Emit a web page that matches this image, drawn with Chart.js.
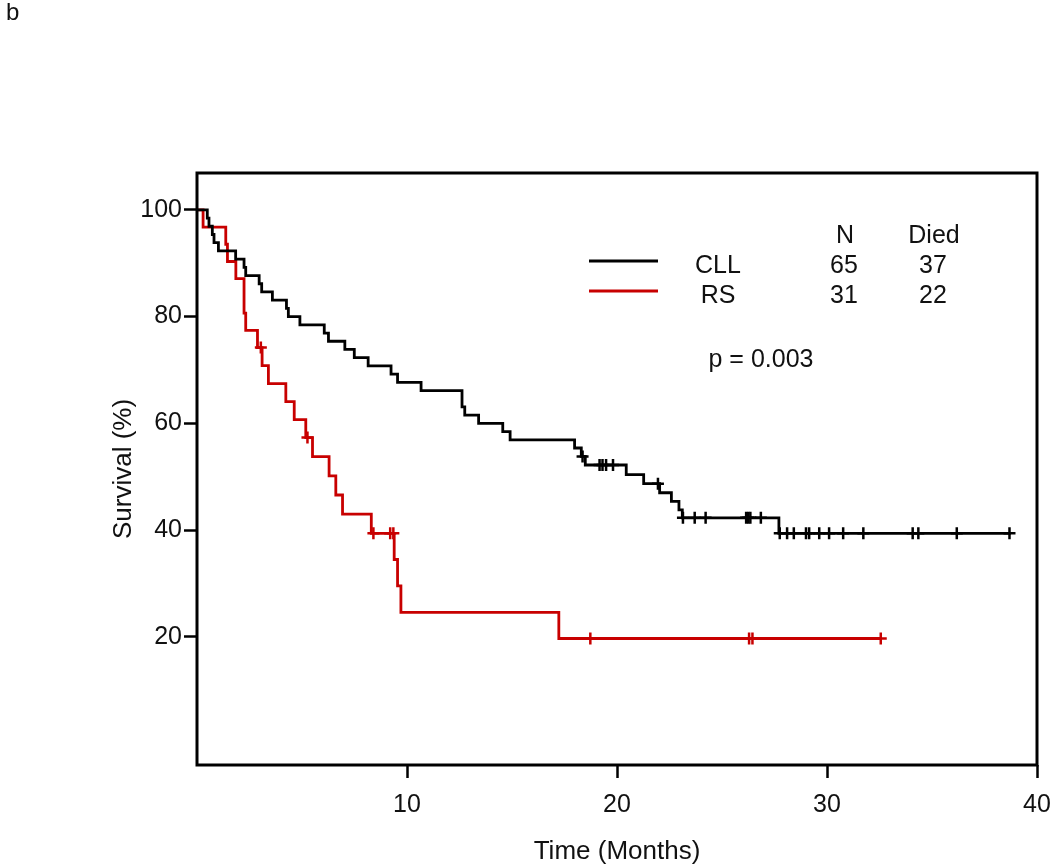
<!DOCTYPE html>
<html>
<head>
<meta charset="utf-8">
<script src="https://cdn.jsdelivr.net/npm/chart.js@4.4.1/dist/chart.umd.min.js"></script>
<style>
  html, body { margin: 0; padding: 0; background: #fff; }
  #wrap { width: 1050px; height: 865px; position: relative; }
</style>
</head>
<body>
<div id="wrap"><canvas id="km" width="1050" height="865"></canvas></div>
<script>
// Kaplan-Meier steps (time in months, survival in %)
const cllTimes = [0, 0.49, 0.57, 0.73, 0.81, 1.02, 1.84, 2.24, 2.32, 2.96, 3.08, 3.59, 4.26, 4.35, 4.90, 6.06, 6.26, 7.04, 7.49, 8.15, 9.24, 9.55, 10.67, 12.62, 12.75, 13.41, 14.56, 14.91, 17.98, 18.30, 18.49, 20.44, 21.27, 22.03, 22.59, 22.95, 23.11, 27.71, 38.75];
const cllSurv = [100, 98.46, 96.92, 95.38, 93.85, 92.31, 90.77, 89.23, 87.69, 86.15, 84.62, 83.08, 81.54, 80.0, 78.46, 76.92, 75.38, 73.85, 72.31, 70.77, 69.23, 67.69, 66.15, 63.08, 61.54, 60.0, 58.46, 56.92, 55.38, 53.8, 52.2, 50.4, 48.7, 47.0, 45.4, 43.8, 42.3, 39.4, 39.4];
// censored patients (+ marks)
const cllCensorTimes = [18.36, 19.17, 19.31, 19.48, 19.81, 21.95, 23.14, 23.70, 24.22, 26.15, 26.25, 26.35, 26.85, 27.75, 28.10, 28.42, 29.00, 29.15, 29.63, 30.10, 30.77, 31.73, 34.08, 34.35, 36.18, 38.69];
const cllCensorSurv = [53.8, 52.2, 52.2, 52.2, 52.2, 48.7, 42.3, 42.3, 42.3, 42.3, 42.3, 42.3, 42.3, 39.4, 39.4, 39.4, 39.4, 39.4, 39.4, 39.4, 39.4, 39.4, 39.4, 39.4, 39.4, 39.4];

const rsTimes = [0, 0.29, 1.37, 1.45, 1.85, 2.24, 2.32, 2.88, 3.10, 3.40, 4.23, 4.63, 5.18, 5.50, 6.29, 6.61, 6.93, 8.30, 9.39, 9.55, 9.71, 17.23, 32.56];
const rsSurv = [100, 96.77, 93.55, 90.32, 87.1, 80.65, 77.42, 74.19, 70.82, 67.45, 64.08, 60.71, 57.33, 53.75, 50.17, 46.58, 43.0, 39.4, 34.5, 29.55, 24.6, 19.7, 19.7];
const rsCensorTimes = [3.04, 5.26, 8.40, 9.20, 9.35, 18.73, 26.29, 26.45, 32.56];
const rsCensorSurv = [74.19, 57.33, 39.4, 39.4, 39.4, 19.7, 19.7, 19.7, 19.7];

const xTicks = [10, 20, 30, 40];
const yTicks = [20, 40, 60, 80, 100];

// legend table
const groups = ['CLL', 'RS'];
const groupN = [65, 31];
const groupDied = [37, 22];
const pValue = 'p = 0.003';

const BLACK = '#000000';
const RED = '#c80000';
const FONT = "'Liberation Sans', Arial, sans-serif";

function toPoints(xs, ys) {
    return xs.map((x, i) => ({ x: x, y: ys[i] }));
}

// box round the plot, legend, p value, panel letter
const extras = {
    id: 'extras',
    afterDraw(chart) {
        const ctx = chart.ctx;
        const a = chart.chartArea;
        ctx.save();
        ctx.strokeStyle = '#000';
        ctx.lineWidth = 3;
        ctx.strokeRect(a.left, a.top, a.right - a.left, a.bottom - a.top);

        ctx.fillStyle = '#111';
        ctx.font = '24px ' + FONT;
        ctx.textAlign = 'left';
        ctx.textBaseline = 'alphabetic';
        ctx.fillText('b', 6, 20);

        ctx.font = '25px ' + FONT;
        ctx.textAlign = 'center';
        ctx.fillText('N', 845, 243);
        ctx.fillText('Died', 934, 243);

        const colors = [BLACK, RED];
        const rowY = [273, 303];
        for (let i = 0; i < groups.length; i++) {
            ctx.strokeStyle = colors[i];
            ctx.lineWidth = 3;
            ctx.beginPath();
            ctx.moveTo(589, rowY[i] - 12);
            ctx.lineTo(658, rowY[i] - 12);
            ctx.stroke();
            ctx.fillStyle = '#111';
            ctx.fillText(groups[i], 718, rowY[i]);
            ctx.fillText(String(groupN[i]), 844, rowY[i]);
            ctx.fillText(String(groupDied[i]), 933, rowY[i]);
        }
        ctx.fillText(pValue, 761, 367);
        ctx.restore();
    }
};

function createChart(name) {
    const cntx = document.getElementById(name).getContext('2d');

    return new Chart(cntx, {
        type: 'line',
        data: {
            datasets: [{
                label: 'CLL',
                data: toPoints(cllTimes, cllSurv),
                borderColor: BLACK,
                borderWidth: 2.8,
                stepped: 'before',
                pointRadius: 0,
                fill: false
            }, {
                label: 'RS',
                data: toPoints(rsTimes, rsSurv),
                borderColor: RED,
                borderWidth: 2.8,
                stepped: 'before',
                pointRadius: 0,
                fill: false
            }, {
                label: 'CLL censored',
                data: toPoints(cllCensorTimes, cllCensorSurv),
                showLine: false,
                pointStyle: 'cross',
                pointRadius: 6,
                pointBorderWidth: 2.5,
                borderColor: BLACK
            }, {
                label: 'RS censored',
                data: toPoints(rsCensorTimes, rsCensorSurv),
                showLine: false,
                pointStyle: 'cross',
                pointRadius: 6,
                pointBorderWidth: 2.5,
                borderColor: RED
            }]
        },
        options: {
            responsive: false,
            animation: false,
            events: [],
            layout: { padding: { left: 0, right: 13, top: 173, bottom: 0 } },
            plugins: {
                legend: { display: false },
                tooltip: { enabled: false }
            },
            scales: {
                x: {
                    type: 'linear',
                    min: 0,
                    max: 40,
                    afterBuildTicks: axis => { axis.ticks = xTicks.map(v => ({ value: v })); },
                    afterFit: axis => {
                        axis.height = 100;
                        axis.paddingLeft = 0;
                        axis.paddingRight = 0;
                    },
                    border: { display: false },
                    grid: {
                        drawOnChartArea: false,
                        drawTicks: true,
                        tickLength: 13,
                        tickWidth: 2.5,
                        tickColor: '#000'
                    },
                    ticks: {
                        autoSkip: false,
                        maxRotation: 0,
                        padding: 12,
                        color: '#111',
                        font: { family: FONT, size: 25 }
                    },
                    title: {
                        display: true,
                        text: 'Time (Months)',
                        color: '#111',
                        font: { family: FONT, size: 26, lineHeight: 1 },
                        padding: { top: 0, bottom: 0 }
                    }
                },
                y: {
                    type: 'linear',
                    min: -4,
                    max: 106.9,
                    afterBuildTicks: axis => { axis.ticks = yTicks.map(v => ({ value: v })); },
                    afterFit: axis => {
                        axis.width = 197;
                        axis.paddingTop = 0;
                        axis.paddingBottom = 0;
                    },
                    border: { display: false },
                    grid: {
                        drawOnChartArea: false,
                        drawTicks: true,
                        tickLength: 13,
                        tickWidth: 2.5,
                        tickColor: '#000'
                    },
                    ticks: {
                        autoSkip: false,
                        padding: 2,
                        color: '#111',
                        font: { family: FONT, size: 25 }
                    },
                    title: {
                        display: true,
                        text: 'Survival (%)',
                        color: '#111',
                        font: { family: FONT, size: 26, lineHeight: 1 },
                        padding: { top: 111, bottom: 0 }
                    }
                }
            }
        },
        plugins: [extras]
    });
}

createChart('km');
</script>
</body>
</html>
